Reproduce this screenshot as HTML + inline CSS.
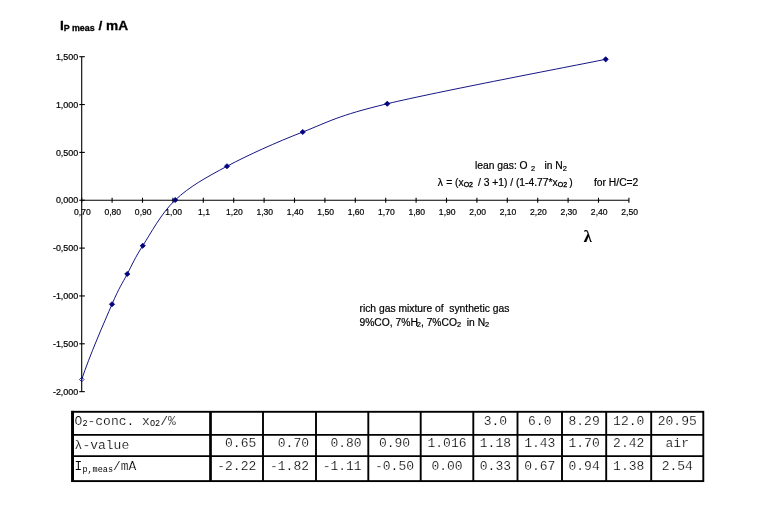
<!DOCTYPE html>
<html lang="en"><head><meta charset="utf-8"><title>Ip meas vs lambda</title>
<style>
html,body{margin:0;padding:0;background:#fff;}
body{width:760px;height:512px;overflow:hidden;}
svg{display:block;}
text{fill:#000;}
.ax{font-family:"Liberation Sans",sans-serif;font-size:8.7px;stroke:#000;stroke-width:0.2px;}
.an{font-family:"Liberation Sans",sans-serif;font-size:10px;stroke:#000;stroke-width:0.2px;}
.sb{font-size:7.2px;stroke-width:0.2px;}
.sbb{font-size:6.8px;stroke-width:0.35px;}
.tt{font-family:"Liberation Sans",sans-serif;font-size:13.7px;font-weight:bold;stroke:#000;stroke-width:0.3px;}
.ts{font-size:8.9px;}
.tb{font-family:"Liberation Mono",monospace;font-size:13px;stroke:#fff;stroke-width:0.2px;}
.tbs{font-size:8.5px;stroke:none;}
.lam{font-family:"Liberation Serif",serif;font-weight:bold;font-size:16.5px;stroke:#000;stroke-width:0.15px;}
</style></head><body>
<svg width="760" height="512" viewBox="0 0 760 512">
<rect width="760" height="512" fill="#fff"/>
<text class="tt" x="59.9" y="30">I<tspan class="ts" dy="1">P meas</tspan><tspan dy="-1"> / mA</tspan></text>
<g stroke="#000" stroke-width="1.1" fill="none">
<line x1="81.70" y1="56.70" x2="81.70" y2="391.65"/>
<line x1="81.70" y1="200.25" x2="628.90" y2="200.25"/>
<line x1="79.30" y1="56.70" x2="84.80" y2="56.70"/>
<line x1="79.30" y1="104.55" x2="84.80" y2="104.55"/>
<line x1="79.30" y1="152.40" x2="84.80" y2="152.40"/>
<line x1="79.30" y1="200.25" x2="84.80" y2="200.25"/>
<line x1="79.30" y1="248.10" x2="84.80" y2="248.10"/>
<line x1="79.30" y1="295.95" x2="84.80" y2="295.95"/>
<line x1="79.30" y1="343.80" x2="84.80" y2="343.80"/>
<line x1="79.30" y1="391.65" x2="84.80" y2="391.65"/>
<line x1="81.70" y1="197.75" x2="81.70" y2="202.75"/>
<line x1="112.10" y1="197.75" x2="112.10" y2="202.75"/>
<line x1="142.50" y1="197.75" x2="142.50" y2="202.75"/>
<line x1="172.90" y1="197.75" x2="172.90" y2="202.75"/>
<line x1="203.30" y1="197.75" x2="203.30" y2="202.75"/>
<line x1="233.70" y1="197.75" x2="233.70" y2="202.75"/>
<line x1="264.10" y1="197.75" x2="264.10" y2="202.75"/>
<line x1="294.50" y1="197.75" x2="294.50" y2="202.75"/>
<line x1="324.90" y1="197.75" x2="324.90" y2="202.75"/>
<line x1="355.30" y1="197.75" x2="355.30" y2="202.75"/>
<line x1="385.70" y1="197.75" x2="385.70" y2="202.75"/>
<line x1="416.10" y1="197.75" x2="416.10" y2="202.75"/>
<line x1="446.50" y1="197.75" x2="446.50" y2="202.75"/>
<line x1="476.90" y1="197.75" x2="476.90" y2="202.75"/>
<line x1="507.30" y1="197.75" x2="507.30" y2="202.75"/>
<line x1="537.70" y1="197.75" x2="537.70" y2="202.75"/>
<line x1="568.10" y1="197.75" x2="568.10" y2="202.75"/>
<line x1="598.50" y1="197.75" x2="598.50" y2="202.75"/>
<line x1="628.90" y1="197.75" x2="628.90" y2="202.75"/>
</g>
<text class="ax" text-anchor="end" transform="translate(78.20,59.90) scale(1.025,1)" xml:space="preserve">1,500</text>
<text class="ax" text-anchor="end" transform="translate(78.20,107.75) scale(1.025,1)" xml:space="preserve">1,000</text>
<text class="ax" text-anchor="end" transform="translate(78.20,155.60) scale(1.025,1)" xml:space="preserve">0,500</text>
<text class="ax" text-anchor="end" transform="translate(78.20,203.45) scale(1.025,1)" xml:space="preserve">0,000</text>
<text class="ax" text-anchor="end" transform="translate(78.20,251.30) scale(1.025,1)" xml:space="preserve">-0,500</text>
<text class="ax" text-anchor="end" transform="translate(78.20,299.15) scale(1.025,1)" xml:space="preserve">-1,000</text>
<text class="ax" text-anchor="end" transform="translate(78.20,347.00) scale(1.025,1)" xml:space="preserve">-1,500</text>
<text class="ax" text-anchor="end" transform="translate(78.20,394.85) scale(1.025,1)" xml:space="preserve">-2,000</text>
<text class="ax" text-anchor="middle" transform="translate(82.40,215.10) scale(0.985,1)" xml:space="preserve">0,70</text>
<text class="ax" text-anchor="middle" transform="translate(112.80,215.10) scale(0.985,1)" xml:space="preserve">0,80</text>
<text class="ax" text-anchor="middle" transform="translate(143.20,215.10) scale(0.985,1)" xml:space="preserve">0,90</text>
<text class="ax" text-anchor="middle" transform="translate(173.60,215.10) scale(0.985,1)" xml:space="preserve">1,00</text>
<text class="ax" text-anchor="middle" transform="translate(204.00,215.10) scale(0.985,1)" xml:space="preserve">1,1</text>
<text class="ax" text-anchor="middle" transform="translate(234.40,215.10) scale(0.985,1)" xml:space="preserve">1,20</text>
<text class="ax" text-anchor="middle" transform="translate(264.80,215.10) scale(0.985,1)" xml:space="preserve">1,30</text>
<text class="ax" text-anchor="middle" transform="translate(295.20,215.10) scale(0.985,1)" xml:space="preserve">1,40</text>
<text class="ax" text-anchor="middle" transform="translate(325.60,215.10) scale(0.985,1)" xml:space="preserve">1,50</text>
<text class="ax" text-anchor="middle" transform="translate(356.00,215.10) scale(0.985,1)" xml:space="preserve">1,60</text>
<text class="ax" text-anchor="middle" transform="translate(386.40,215.10) scale(0.985,1)" xml:space="preserve">1,70</text>
<text class="ax" text-anchor="middle" transform="translate(416.80,215.10) scale(0.985,1)" xml:space="preserve">1,80</text>
<text class="ax" text-anchor="middle" transform="translate(447.20,215.10) scale(0.985,1)" xml:space="preserve">1,90</text>
<text class="ax" text-anchor="middle" transform="translate(477.60,215.10) scale(0.985,1)" xml:space="preserve">2,00</text>
<text class="ax" text-anchor="middle" transform="translate(508.00,215.10) scale(0.985,1)" xml:space="preserve">2,10</text>
<text class="ax" text-anchor="middle" transform="translate(538.40,215.10) scale(0.985,1)" xml:space="preserve">2,20</text>
<text class="ax" text-anchor="middle" transform="translate(568.80,215.10) scale(0.985,1)" xml:space="preserve">2,30</text>
<text class="ax" text-anchor="middle" transform="translate(599.20,215.10) scale(0.985,1)" xml:space="preserve">2,40</text>
<text class="ax" text-anchor="middle" transform="translate(629.60,215.10) scale(0.985,1)" xml:space="preserve">2,50</text>
<path d="M81.75,379.50 C89.00,357.00 104.42,321.83 112.00,304.25 C119.58,286.67 122.12,283.75 127.25,274.00 C132.38,264.25 134.75,258.08 142.75,245.75 C150.75,233.42 161.21,213.25 175.25,200.00 C189.29,186.75 205.75,177.58 227.00,166.25 C248.25,154.92 276.04,142.42 302.75,132.00 C329.46,121.58 336.76,115.87 387.25,103.75 C437.74,91.63 569.29,66.71 605.70,59.30" fill="none" stroke="#000078" stroke-width="0.92"/>
<path d="M81.75,377.20 L84.05,379.50 L81.75,381.80 L79.45,379.50 Z" fill="none" stroke="#000080" stroke-width="0.8"/>
<path d="M112.00,301.65 L114.60,304.25 L112.00,306.85 L109.40,304.25 Z" fill="#000080" stroke="#000080" stroke-width="0.8"/>
<path d="M127.25,271.40 L129.85,274.00 L127.25,276.60 L124.65,274.00 Z" fill="#000080" stroke="#000080" stroke-width="0.8"/>
<path d="M142.75,243.15 L145.35,245.75 L142.75,248.35 L140.15,245.75 Z" fill="#000080" stroke="#000080" stroke-width="0.8"/>
<path d="M175.25,197.40 L177.85,200.00 L175.25,202.60 L172.65,200.00 Z" fill="#000080" stroke="#000080" stroke-width="0.8"/>
<path d="M227.00,163.65 L229.60,166.25 L227.00,168.85 L224.40,166.25 Z" fill="#000080" stroke="#000080" stroke-width="0.8"/>
<path d="M302.75,129.40 L305.35,132.00 L302.75,134.60 L300.15,132.00 Z" fill="#000080" stroke="#000080" stroke-width="0.8"/>
<path d="M387.25,101.15 L389.85,103.75 L387.25,106.35 L384.65,103.75 Z" fill="#000080" stroke="#000080" stroke-width="0.8"/>
<path d="M605.70,56.70 L608.30,59.30 L605.70,61.90 L603.10,59.30 Z" fill="#000080" stroke="#000080" stroke-width="0.8"/>
<text class="an" transform="translate(475.00,169.30) scale(1.030,1)" xml:space="preserve">lean gas: O <tspan class="sb" dy="1.3" dx="0.6">2</tspan><tspan dy="-1.3" dx="6.2"> in N</tspan><tspan class="sb" dy="1.3">2</tspan></text>
<text class="an" transform="translate(437.80,185.80) scale(1.030,1)" xml:space="preserve">λ<tspan dx="0.4"> = (x</tspan><tspan class="sbb" dy="1.3">O2</tspan><tspan dy="-1.3" dx="2"> / 3 +1) / (1-4.77*x</tspan><tspan class="sbb" dy="1.3">O2</tspan><tspan dy="-1.3" dx="-0.6"> )</tspan></text>
<text class="an" transform="translate(594.00,185.80) scale(1.030,1)" xml:space="preserve">for H/C=2</text>
<text class="lam" x="583.8" y="241.6">λ</text>
<text class="an" transform="translate(359.50,312.00) scale(1.030,1)" xml:space="preserve">rich gas mixture of  synthetic gas</text>
<text class="an" transform="translate(359.50,325.50) scale(1.030,1)" xml:space="preserve">9%CO, 7%H<tspan class="sb" dy="1.3" dx="-1">2</tspan><tspan dy="-1.3">, 7%CO</tspan><tspan class="sb" dy="1.3">2</tspan><tspan dy="-1.3">  in N</tspan><tspan class="sb" dy="1.3">2</tspan></text>
<g stroke="#000" fill="none">
<rect x="72.1" y="411.8" width="631.2" height="69.3" stroke-width="1.9"/>
<line x1="72.7" y1="410.9" x2="72.7" y2="482.0" stroke-width="2.6"/>
<line x1="210.5" y1="411.8" x2="210.5" y2="481.1" stroke-width="2.7"/>
<line x1="263.0" y1="411.8" x2="263.0" y2="481.1" stroke-width="1.9"/>
<line x1="316.0" y1="411.8" x2="316.0" y2="481.1" stroke-width="1.9"/>
<line x1="368.3" y1="411.8" x2="368.3" y2="481.1" stroke-width="1.9"/>
<line x1="420.7" y1="411.8" x2="420.7" y2="481.1" stroke-width="1.9"/>
<line x1="473.3" y1="411.8" x2="473.3" y2="481.1" stroke-width="1.9"/>
<line x1="517.5" y1="411.8" x2="517.5" y2="481.1" stroke-width="1.9"/>
<line x1="562.0" y1="411.8" x2="562.0" y2="481.1" stroke-width="1.9"/>
<line x1="606.2" y1="411.8" x2="606.2" y2="481.1" stroke-width="1.9"/>
<line x1="651.2" y1="411.8" x2="651.2" y2="481.1" stroke-width="1.9"/>
<line x1="72.1" y1="434.9" x2="703.3" y2="434.9" stroke-width="1.7"/>
<line x1="72.1" y1="456.2" x2="703.3" y2="456.2" stroke-width="1.7"/>
</g>
<text class="tb" x="74.6" y="424.6">O<tspan class="tbs" dy="1.5">2</tspan><tspan dy="-1.5">-conc. x</tspan><tspan class="tbs" dy="1.5">O2</tspan><tspan dy="-1.5">/%</tspan></text>
<text class="tb" x="74.6" y="448.5">λ-value</text>
<text class="tb" x="74.6" y="470.3">I<tspan class="tbs" dy="1.5">p,meas</tspan><tspan dy="-1.5">/mA</tspan></text>
<text class="tb" text-anchor="middle" xml:space="preserve" x="495.40" y="424.6">3.0</text>
<text class="tb" text-anchor="middle" xml:space="preserve" x="539.75" y="424.6">6.0</text>
<text class="tb" text-anchor="middle" xml:space="preserve" x="584.10" y="424.6">8.29</text>
<text class="tb" text-anchor="middle" xml:space="preserve" x="628.70" y="424.6">12.0</text>
<text class="tb" text-anchor="middle" xml:space="preserve" x="677.25" y="424.6">20.95</text>
<text class="tb" text-anchor="middle" xml:space="preserve" x="236.75" y="447.3"> 0.65</text>
<text class="tb" text-anchor="middle" xml:space="preserve" x="289.50" y="447.3"> 0.70</text>
<text class="tb" text-anchor="middle" xml:space="preserve" x="342.15" y="447.3"> 0.80</text>
<text class="tb" text-anchor="middle" xml:space="preserve" x="394.50" y="447.3">0.90</text>
<text class="tb" text-anchor="middle" xml:space="preserve" x="447.00" y="447.3">1.016</text>
<text class="tb" text-anchor="middle" xml:space="preserve" x="495.40" y="447.3">1.18</text>
<text class="tb" text-anchor="middle" xml:space="preserve" x="539.75" y="447.3">1.43</text>
<text class="tb" text-anchor="middle" xml:space="preserve" x="584.10" y="447.3">1.70</text>
<text class="tb" text-anchor="middle" xml:space="preserve" x="628.70" y="447.3">2.42</text>
<text class="tb" text-anchor="middle" xml:space="preserve" x="677.25" y="447.3">air</text>
<text class="tb" text-anchor="middle" xml:space="preserve" x="236.75" y="470.3">-2.22</text>
<text class="tb" text-anchor="middle" xml:space="preserve" x="289.50" y="470.3">-1.82</text>
<text class="tb" text-anchor="middle" xml:space="preserve" x="342.15" y="470.3">-1.11</text>
<text class="tb" text-anchor="middle" xml:space="preserve" x="394.50" y="470.3">-0.50</text>
<text class="tb" text-anchor="middle" xml:space="preserve" x="447.00" y="470.3">0.00</text>
<text class="tb" text-anchor="middle" xml:space="preserve" x="495.40" y="470.3">0.33</text>
<text class="tb" text-anchor="middle" xml:space="preserve" x="539.75" y="470.3">0.67</text>
<text class="tb" text-anchor="middle" xml:space="preserve" x="584.10" y="470.3">0.94</text>
<text class="tb" text-anchor="middle" xml:space="preserve" x="628.70" y="470.3">1.38</text>
<text class="tb" text-anchor="middle" xml:space="preserve" x="677.25" y="470.3">2.54</text>
</svg></body></html>
